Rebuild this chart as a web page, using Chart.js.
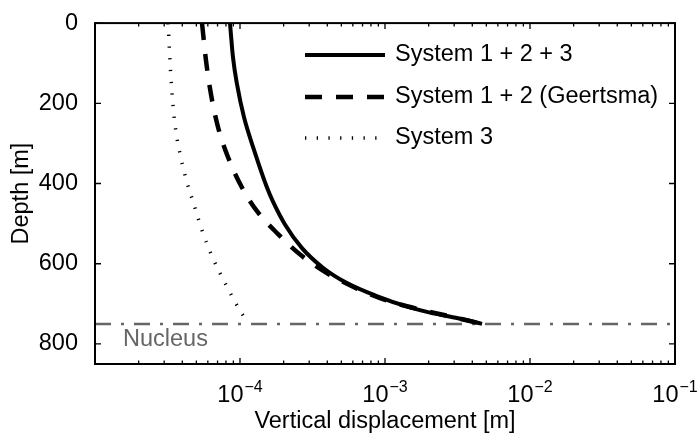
<!DOCTYPE html>
<html>
<head>
<meta charset="utf-8">
<script src="https://cdn.jsdelivr.net/npm/chart.js@4.4.1/dist/chart.umd.min.js"></script>
<style>
  html, body { margin: 0; padding: 0; background: #fff; }
</style>
</head>
<body>
<canvas id="chart" width="697" height="436"></canvas>
<script>
// vertical displacement [m] against depth [m] above a compacting nucleus
const nucleusDepth = 750;

// System 1 + 2 + 3
const fullDepth = [0, 86, 153, 235, 316, 410, 445, 502, 561, 610, 647, 680, 709, 722, 736, 750];
const fullDisp = [8.53e-5, 8.95e-5, 9.54e-5, 1.066e-4, 1.249e-4, 1.535e-4, 1.689e-4, 2.043e-4, 2.677e-4, 3.735e-4, 5.38e-4, 8.67e-4, 1.487e-3, 2.043e-3, 3.19e-3, 4.67e-3];

// System 1 + 2 (Geertsma)
const geertsmaDepth = [0, 94, 178, 259, 334, 410, 469, 526, 581, 625, 662, 692, 717, 734, 750];
const geertsmaDisp = [5.47e-5, 5.83e-5, 6.31e-5, 7.05e-5, 8.26e-5, 1.032e-4, 1.31e-4, 1.829e-4, 2.677e-4, 4.045e-4, 6.41e-4, 1.032e-3, 1.888e-3, 3.04e-3, 4.67e-3];

// System 3
const sys3Depth = [0, 119, 205, 272, 326, 388, 445, 524, 581, 662, 717, 747];
const sys3Disp = [3.19e-5, 3.32e-5, 3.45e-5, 3.62e-5, 3.86e-5, 4.24e-5, 4.74e-5, 5.56e-5, 6.41e-5, 8.26e-5, 1.0e-4, 1.136e-4];

const seriesLabels = ['System 1 + 2 + 3', 'System 1 + 2 (Geertsma)', 'System 3'];
const depthTicks = [0, 200, 400, 600, 800];
const depthMax = 850;
const decadeExps = [-5, -4, -3, -2, -1];
const labelledExps = [-4, -3, -2, -1];
const minorMults = [2, 3, 4, 5, 6, 7, 8, 9];

const FONT = "'Liberation Sans', Arial, Helvetica, sans-serif";

const pts = (xs, ys) => xs.map((x, i) => ({ x: x, y: ys[i] }));

// decade ticks plus 2..9 minor ticks for the log axis
const xTickList = [];
decadeExps.forEach((e, i) => {
  xTickList.push({ value: Math.pow(10, e), major: true, exp: e });
  if (i < decadeExps.length - 1) {
    minorMults.forEach(m => xTickList.push({ value: m * Math.pow(10, e), major: false }));
  }
});

// box, inward ticks, decade labels, legend and nucleus label
const framePlugin = {
  id: 'frame',
  afterDraw(chart) {
    const ctx = chart.ctx;
    const a = chart.chartArea;
    const xs = chart.scales.x, ys = chart.scales.y;
    ctx.save();

    ctx.strokeStyle = '#000';
    ctx.lineWidth = 1.3;
    ctx.setLineDash([]);
    ctx.beginPath();
    xs.ticks.forEach(t => {
      const px = xs.getPixelForValue(t.value);
      const len = t.major ? 6 : 3.5;
      ctx.moveTo(px, a.bottom); ctx.lineTo(px, a.bottom - len);
      ctx.moveTo(px, a.top); ctx.lineTo(px, a.top + len);
    });
    ys.ticks.forEach(t => {
      const py = ys.getPixelForValue(t.value);
      ctx.moveTo(a.left, py); ctx.lineTo(a.left + 6, py);
      ctx.moveTo(a.right, py); ctx.lineTo(a.right - 6, py);
    });
    ctx.stroke();

    ctx.lineWidth = 2;
    ctx.strokeRect(a.left, a.top, a.right - a.left, a.bottom - a.top);

    // 10^n labels
    ctx.fillStyle = '#000';
    ctx.textBaseline = 'alphabetic';
    ctx.textAlign = 'left';
    xs.ticks.filter(t => t.major && labelledExps.includes(t.exp)).forEach(t => {
      const px = xs.getPixelForValue(t.value);
      const base = '10', sup = '\u2212' + Math.abs(t.exp);
      ctx.font = '23.5px ' + FONT;
      const wb = ctx.measureText(base).width;
      ctx.font = '16px ' + FONT;
      const ws = ctx.measureText(sup).width;
      const x0 = px - (wb + 1 + ws) / 2;
      ctx.font = '23.5px ' + FONT;
      ctx.fillText(base, x0, a.bottom + 37.5);
      ctx.font = '16px ' + FONT;
      ctx.fillText(sup, x0 + wb + 1, a.bottom + 28);
    });

    // legend
    const rows = [55, 97, 138];
    ctx.font = '23.5px ' + FONT;
    ctx.textBaseline = 'middle';
    chart.data.datasets.filter(d => seriesLabels.includes(d.label)).forEach((d, i) => {
      const y = rows[i];
      ctx.strokeStyle = d.borderColor;
      ctx.lineWidth = d.borderWidth;
      ctx.lineCap = 'butt';
      ctx.setLineDash(d.borderDash || []);
      ctx.beginPath();
      ctx.moveTo(305, y);
      ctx.lineTo(385, y);
      ctx.stroke();
      ctx.setLineDash([]);
      ctx.fillStyle = '#000';
      ctx.fillText(d.label, 395, y);
    });

    // nucleus label under the dash-dot line
    ctx.fillStyle = '#666';
    ctx.fillText('Nucleus', a.left + 28, ys.getPixelForValue(nucleusDepth) + 15.5);

    ctx.restore();
  }
};

new Chart(document.getElementById('chart'), {
  type: 'line',
  data: {
    datasets: [
      {
        label: seriesLabels[0],
        data: pts(fullDisp, fullDepth),
        borderColor: '#000',
        borderWidth: 4,
        order: 1
      },
      {
        label: seriesLabels[1],
        data: pts(geertsmaDisp, geertsmaDepth),
        borderColor: '#000',
        borderWidth: 4.5,
        borderDash: [17, 14],
        order: 2
      },
      {
        label: seriesLabels[2],
        data: pts(sys3Disp, sys3Depth),
        borderColor: '#000',
        borderWidth: 3.5,
        borderDash: [1.3, 10.4],
        order: 3
      },
      {
        label: 'Nucleus',
        data: [
          { x: Math.pow(10, decadeExps[0]), y: nucleusDepth },
          { x: Math.pow(10, decadeExps[decadeExps.length - 1]), y: nucleusDepth }
        ],
        borderColor: '#666',
        borderWidth: 2.5,
        borderDash: [16, 10, 3, 10],
        order: 10
      }
    ]
  },
  options: {
    responsive: false,
    animation: false,
    layout: { padding: { top: 20, right: 22, left: 0, bottom: 0 } },
    elements: {
      point: { radius: 0, hoverRadius: 0 },
      line: { cubicInterpolationMode: 'monotone', fill: false, borderCapStyle: 'butt' }
    },
    plugins: {
      legend: { display: false },
      tooltip: { enabled: false }
    },
    scales: {
      x: {
        type: 'logarithmic',
        position: 'bottom',
        min: Math.pow(10, decadeExps[0]),
        max: Math.pow(10, decadeExps[decadeExps.length - 1]),
        grid: { display: false },
        border: { display: false },
        ticks: { display: false },
        afterBuildTicks: s => { s.ticks = xTickList.map(t => Object.assign({}, t)); },
        afterFit: s => { s.height = 72; },
        title: {
          display: true,
          text: 'Vertical displacement [m]',
          color: '#000',
          font: { family: FONT, size: 23.5 },
          padding: { top: 0, bottom: 0 }
        }
      },
      y: {
        type: 'linear',
        reverse: true,
        min: 0,
        max: depthMax,
        grid: { display: false },
        border: { display: false },
        ticks: {
          color: '#000',
          font: { family: FONT, size: 23.5 },
          padding: 9
        },
        afterBuildTicks: s => { s.ticks = depthTicks.map(v => ({ value: v })); },
        afterFit: s => { s.width = 95; },
        title: {
          display: true,
          text: 'Depth [m]',
          color: '#000',
          font: { family: FONT, size: 23.5 },
          padding: { top: 7, bottom: 0 }
        }
      }
    }
  },
  plugins: [framePlugin]
});
</script>
</body>
</html>
